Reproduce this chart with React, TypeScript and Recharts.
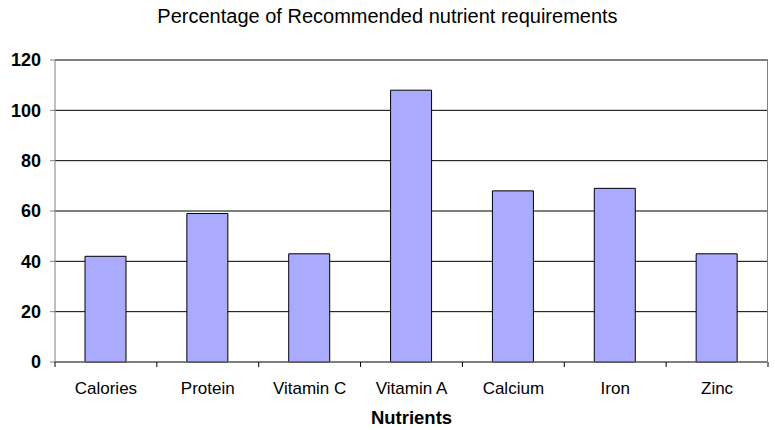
import { BarChart, Bar, XAxis, YAxis, CartesianGrid } from "recharts";

const nutrients = ["Calories", "Protein", "Vitamin C", "Vitamin A", "Calcium", "Iron", "Zinc"];
const percentValues = [42, 59, 43, 108, 68, 69, 43];
const yTicks = [0, 20, 40, 60, 80, 100, 120];

const data = nutrients.map((name, i) => ({ name, value: percentValues[i] }));

const FONT = '"Liberation Sans", Arial, sans-serif';
const W = 775;
const H = 430;
const M = { top: 60, right: 7, left: 0, bottom: 0 };
const Y_AXIS_W = 55;
const X_AXIS_H = 68;
const BAND = (W - M.right - Y_AXIS_W) / nutrients.length;

// category label plus tick marks on the band boundaries
function CategoryTick(props: any) {
  const { x, y, payload, index } = props;
  const axisY = H - X_AXIS_H;
  return (
    <g>
      {index === 0 && (
        <line x1={x - BAND / 2} x2={x - BAND / 2} y1={axisY} y2={axisY + 5} stroke="#000" />
      )}
      <line x1={x + BAND / 2} x2={x + BAND / 2} y1={axisY} y2={axisY + 5} stroke="#000" />
      <text
        x={x}
        y={axisY + 32}
        textAnchor="middle"
        fontSize={17}
        fill="#000"
        fontFamily={FONT}
      >
        {payload.value}
      </text>
    </g>
  );
}

export default function App() {
  return (
    <div style={{ position: "absolute", left: 0, top: 0, width: W, height: H, background: "#fff", fontFamily: FONT }}>
      <div
        style={{
          position: "absolute",
          top: 4,
          left: 0,
          width: W,
          textAlign: "center",
          fontSize: 20,
          lineHeight: "24px",
          color: "#000",
        }}
      >
        Percentage of Recommended nutrient requirements
      </div>
      <BarChart width={W} height={H} data={data} margin={M}>
        <CartesianGrid horizontal vertical={false} stroke="#000" strokeWidth={1} />
        <XAxis
          dataKey="name"
          height={X_AXIS_H}
          tickLine={false}
          axisLine={{ stroke: "#808080" }}
          tick={<CategoryTick />}
          interval={0}
          label={{
            value: "Nutrients",
            position: "insideBottom",
            offset: 6,
            style: { fontSize: 18.5, fontWeight: "bold", fill: "#000", fontFamily: FONT },
          }}
        />
        <YAxis
          width={Y_AXIS_W}
          domain={[0, 120]}
          ticks={yTicks}
          interval={0}
          tickSize={5}
          tickMargin={9}
          tickLine={{ stroke: "#808080" }}
          axisLine={{ stroke: "#808080" }}
          tick={{ fontSize: 18, fontWeight: "bold", fill: "#000", fontFamily: FONT }}
        />
        <Bar
          dataKey="value"
          fill="#AAAAFF"
          stroke="#000"
          strokeWidth={1}
          barSize={41}
          isAnimationActive={false}
        />
      </BarChart>
      {/* grey plot border on top and right */}
      <div
        style={{
          position: "absolute",
          left: Y_AXIS_W,
          top: M.top,
          width: W - Y_AXIS_W - M.right - 1,
          height: H - M.top - X_AXIS_H,
          borderTop: "1px solid #808080",
          borderRight: "1px solid #808080",
          pointerEvents: "none",
        }}
      />
    </div>
  );
}
